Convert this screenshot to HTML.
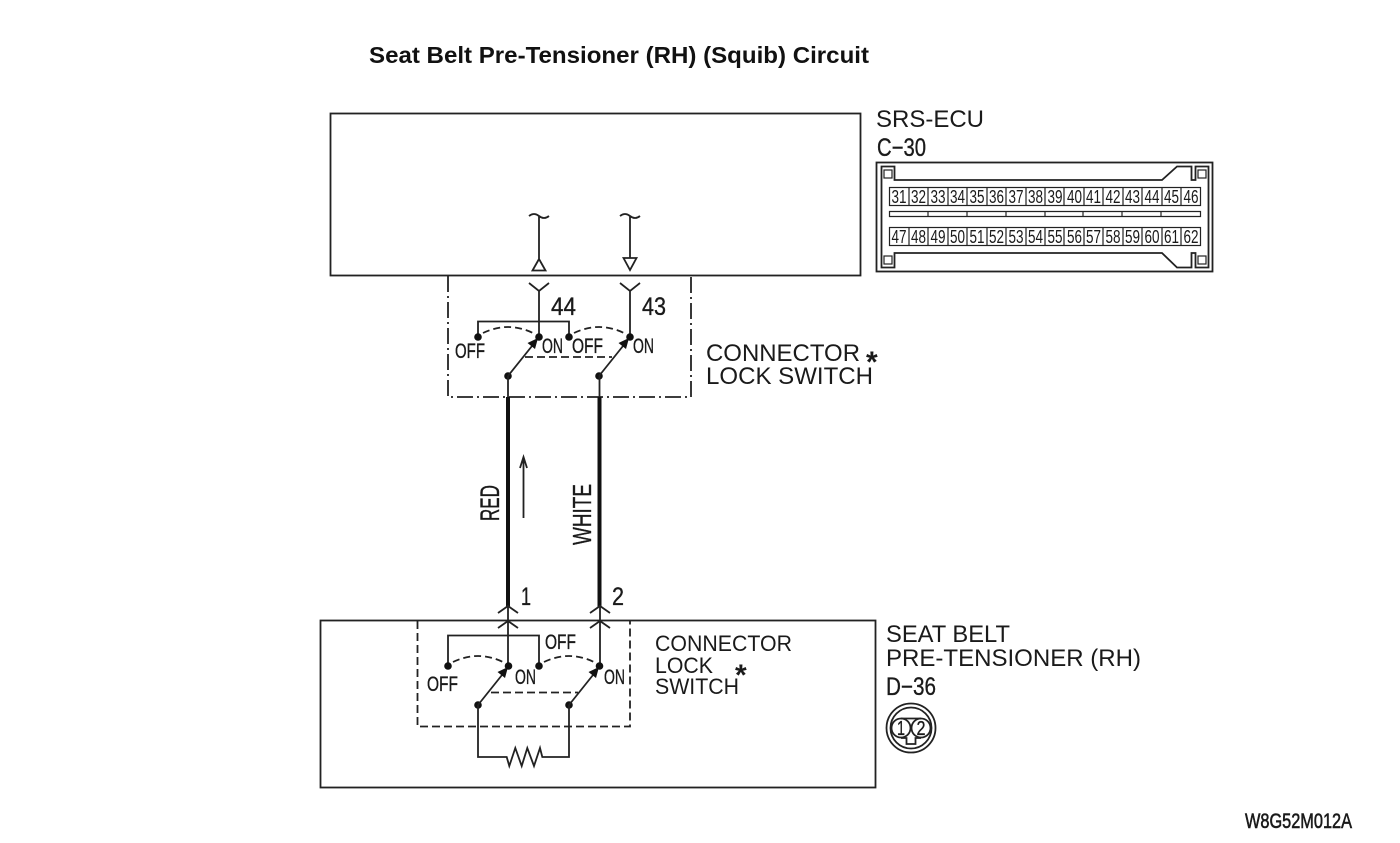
<!DOCTYPE html>
<html><head><meta charset="utf-8"><style>
html,body{margin:0;padding:0;background:#fff}
svg{display:block}
text{font-family:"Liberation Sans",sans-serif;fill:#1a1a1a}
.l{fill:none;stroke:#222;stroke-width:1.8}
.t{fill:none;stroke:#222;stroke-width:1.2}
.d{fill:#111}
.c{font-size:18px;text-anchor:middle}
.n{stroke:#1a1a1a;stroke-width:.35}
</style></head><body>
<svg width="1400" height="843" viewBox="0 0 1400 843" xmlns="http://www.w3.org/2000/svg">
<text x="369" y="63" font-size="23" font-weight="700" textLength="500" lengthAdjust="spacingAndGlyphs" style="fill:#111">Seat Belt Pre-Tensioner (RH) (Squib) Circuit</text>

<rect class="l" x="330.500" y="113.500" width="530" height="162"/>
<rect class="l" x="320.500" y="620.500" width="555" height="167"/>

<!-- ECU internal -->
<path class="l" d="M529 216q5-4 10 0t10 0M539 216V259M532.500 270.500L539 259L545.500 270.500ZM620 216q5-4 10 0t10 0M630 216V258M623.500 258L630 270L636.500 258Z"/>

<!-- upper switch box -->
<path class="l" d="M448 276V397H691V276" stroke-dasharray="16 4 2 4"/>
<path class="l" d="M529 283L539 291L549 283M539 291V337M620 283L630 291L640 283M630 291V337M478 337V321.500H569V337"/>
<g class="d"><circle cx="478" cy="337" r="3.800"/><circle cx="539" cy="337" r="3.800"/><circle cx="569" cy="337" r="3.800"/><circle cx="630" cy="337" r="3.800"/><circle cx="508" cy="376" r="3.800"/><circle cx="599" cy="376" r="3.800"/></g>
<path class="l" d="M508 376L536 341M599 376L627 341"/>
<path class="d" d="M538 338L535 349L527.500 343ZM629 338L626 349L618.500 343Z"/>
<path class="l" stroke-dasharray="7 4" d="M483 333Q508 321 533 333M574 333Q599 321 624 333"/>
<path class="l" stroke-dasharray="8 4" d="M525 357H612"/>

<!-- thick wires -->
<path d="M508 397V607M599.500 397V607" stroke="#111" stroke-width="4" fill="none"/>
<path d="M508 376V397M599.500 376V397" class="l"/>
<path class="l" d="M523.500 518V457M520 468L523.500 457L527 468"/>

<!-- lower switch box -->
<path class="l" d="M498 613L508 606L518 613M498 628L508 621L518 628M590 613L600 606L610 613M590 628L600 621L610 628M508 606V666M600 606V666"/>
<path class="l" stroke-dasharray="8 4" d="M417.500 621V726.500H630V621"/>
<path class="l" d="M448 666V635.500H539V666"/>
<g class="d"><circle cx="448" cy="666" r="3.800"/><circle cx="508.500" cy="666" r="3.800"/><circle cx="539" cy="666" r="3.800"/><circle cx="599.500" cy="666" r="3.800"/><circle cx="478" cy="705" r="3.800"/><circle cx="569" cy="705" r="3.800"/></g>
<path class="l" d="M478 705L506 670M569 705L597 670"/>
<path class="d" d="M508 667L505 678L497.500 672ZM599 667L596 678L588.500 672Z"/>
<path class="l" stroke-dasharray="7 4" d="M453 662Q478 650 503 662M544 662Q569 650 594 662"/>
<path class="l" stroke-dasharray="8 4" d="M491 692.500H578"/>
<path class="l" d="M478 705V757H506.700L509.300 766L515.300 748L521.700 766L527.300 748L534 766L540 748L542.300 757H569V705"/>

<!-- small labels -->
<g font-size="25" class="n">
<text x="551" y="315" textLength="25" lengthAdjust="spacingAndGlyphs">44</text>
<text x="642" y="315" textLength="24" lengthAdjust="spacingAndGlyphs">43</text>
<text x="521" y="605" textLength="10" lengthAdjust="spacingAndGlyphs">1</text>
<text x="612" y="605" textLength="12" lengthAdjust="spacingAndGlyphs">2</text>
</g>
<g font-size="21" class="n">
<text x="455" y="358" textLength="30" lengthAdjust="spacingAndGlyphs">OFF</text>
<text x="542" y="353" textLength="21" lengthAdjust="spacingAndGlyphs">ON</text>
<text x="572" y="353" textLength="31" lengthAdjust="spacingAndGlyphs">OFF</text>
<text x="633" y="353" textLength="21" lengthAdjust="spacingAndGlyphs">ON</text>
<text x="545" y="649" textLength="31" lengthAdjust="spacingAndGlyphs">OFF</text>
<text x="427" y="691" textLength="31" lengthAdjust="spacingAndGlyphs">OFF</text>
<text x="515" y="684" textLength="21" lengthAdjust="spacingAndGlyphs">ON</text>
<text x="604" y="684" textLength="21" lengthAdjust="spacingAndGlyphs">ON</text>
</g>
<text class="n" transform="translate(499,521) rotate(-90)" font-size="27" textLength="36" lengthAdjust="spacingAndGlyphs">RED</text>
<text class="n" transform="translate(591,545) rotate(-90)" font-size="26" textLength="61" lengthAdjust="spacingAndGlyphs">WHITE</text>

<!-- right labels -->
<g font-size="24">
<text x="876" y="127" textLength="108" lengthAdjust="spacingAndGlyphs">SRS-ECU</text>
<text class="n" x="877" y="156" font-size="25" textLength="49" lengthAdjust="spacingAndGlyphs">C−30</text>
<text x="706" y="361" textLength="154" lengthAdjust="spacingAndGlyphs">CONNECTOR</text>
<text x="706" y="384" textLength="167" lengthAdjust="spacingAndGlyphs">LOCK SWITCH</text>
<text x="886" y="642" textLength="124" lengthAdjust="spacingAndGlyphs">SEAT BELT</text>
<text x="886" y="666" textLength="255" lengthAdjust="spacingAndGlyphs">PRE-TENSIONER (RH)</text>
<text class="n" x="886" y="695" font-size="25" textLength="50" lengthAdjust="spacingAndGlyphs">D−36</text>
</g>
<g font-size="22">
<text x="655" y="651" textLength="137" lengthAdjust="spacingAndGlyphs">CONNECTOR</text>
<text x="655" y="673" textLength="58" lengthAdjust="spacingAndGlyphs">LOCK</text>
<text x="655" y="694" textLength="84" lengthAdjust="spacingAndGlyphs">SWITCH</text>
</g>
<text x="866" y="372" font-size="30" font-weight="700">*</text>
<text x="735" y="685" font-size="30" font-weight="700">*</text>
<text class="n" x="1245" y="828" font-size="21" textLength="107" lengthAdjust="spacingAndGlyphs" style="stroke-width:.6">W8G52M012A</text>

<!-- C-30 connector -->
<rect class="l" x="876.500" y="162.500" width="336" height="109"/>
<path class="l" d="M881.500 166.500H894.500V180H1162L1177 166.500H1191.500V180H1195.500V166.500H1208.500V267.500H1195.500V253H1191.500V267.500H1177L1162 253H894.500V267.500H881.500Z"/>
<rect class="t" x="884" y="170" width="8" height="8"/><rect class="t" x="1198" y="170" width="8" height="8"/>
<rect class="t" x="884" y="256" width="8" height="8"/><rect class="t" x="1198" y="256" width="8" height="8"/>
<path class="t" d="M889.500 211.500H1200.500V216.500H889.500ZM928 211.500V216.500M967 211.500V216.500M1006 211.500V216.500M1045 211.500V216.500M1083 211.500V216.500M1122 211.500V216.500M1161 211.500V216.500"/>
<g class="t">
<rect x="889.500" y="187.500" width="311" height="18"/>
<path d="M909 187.500V205.500M928 187.500V205.500M948 187.500V205.500M967 187.500V205.500M987 187.500V205.500M1006 187.500V205.500M1026 187.500V205.500M1045 187.500V205.500M1064 187.500V205.500M1084 187.500V205.500M1103 187.500V205.500M1123 187.500V205.500M1142 187.500V205.500M1162 187.500V205.500M1181 187.500V205.500"/>
<rect x="889.500" y="227.500" width="311" height="18"/>
<path d="M909 227.500V245.500M928 227.500V245.500M948 227.500V245.500M967 227.500V245.500M987 227.500V245.500M1006 227.500V245.500M1026 227.500V245.500M1045 227.500V245.500M1064 227.500V245.500M1084 227.500V245.500M1103 227.500V245.500M1123 227.500V245.500M1142 227.500V245.500M1162 227.500V245.500M1181 227.500V245.500"/>
</g>
<g class="c">
<text x="899" y="203" textLength="15" lengthAdjust="spacingAndGlyphs">31</text><text x="918.500" y="203" textLength="15" lengthAdjust="spacingAndGlyphs">32</text><text x="938" y="203" textLength="15" lengthAdjust="spacingAndGlyphs">33</text><text x="957.500" y="203" textLength="15" lengthAdjust="spacingAndGlyphs">34</text><text x="977" y="203" textLength="15" lengthAdjust="spacingAndGlyphs">35</text><text x="996.500" y="203" textLength="15" lengthAdjust="spacingAndGlyphs">36</text><text x="1016" y="203" textLength="15" lengthAdjust="spacingAndGlyphs">37</text><text x="1035.500" y="203" textLength="15" lengthAdjust="spacingAndGlyphs">38</text><text x="1055" y="203" textLength="15" lengthAdjust="spacingAndGlyphs">39</text><text x="1074.500" y="203" textLength="15" lengthAdjust="spacingAndGlyphs">40</text><text x="1093.500" y="203" textLength="15" lengthAdjust="spacingAndGlyphs">41</text><text x="1113" y="203" textLength="15" lengthAdjust="spacingAndGlyphs">42</text><text x="1132.500" y="203" textLength="15" lengthAdjust="spacingAndGlyphs">43</text><text x="1152" y="203" textLength="15" lengthAdjust="spacingAndGlyphs">44</text><text x="1171.500" y="203" textLength="15" lengthAdjust="spacingAndGlyphs">45</text><text x="1191" y="203" textLength="15" lengthAdjust="spacingAndGlyphs">46</text>
<text x="899" y="243" textLength="15" lengthAdjust="spacingAndGlyphs">47</text><text x="918.500" y="243" textLength="15" lengthAdjust="spacingAndGlyphs">48</text><text x="938" y="243" textLength="15" lengthAdjust="spacingAndGlyphs">49</text><text x="957.500" y="243" textLength="15" lengthAdjust="spacingAndGlyphs">50</text><text x="977" y="243" textLength="15" lengthAdjust="spacingAndGlyphs">51</text><text x="996.500" y="243" textLength="15" lengthAdjust="spacingAndGlyphs">52</text><text x="1016" y="243" textLength="15" lengthAdjust="spacingAndGlyphs">53</text><text x="1035.500" y="243" textLength="15" lengthAdjust="spacingAndGlyphs">54</text><text x="1055" y="243" textLength="15" lengthAdjust="spacingAndGlyphs">55</text><text x="1074.500" y="243" textLength="15" lengthAdjust="spacingAndGlyphs">56</text><text x="1093.500" y="243" textLength="15" lengthAdjust="spacingAndGlyphs">57</text><text x="1113" y="243" textLength="15" lengthAdjust="spacingAndGlyphs">58</text><text x="1132.500" y="243" textLength="15" lengthAdjust="spacingAndGlyphs">59</text><text x="1152" y="243" textLength="15" lengthAdjust="spacingAndGlyphs">60</text><text x="1171.500" y="243" textLength="15" lengthAdjust="spacingAndGlyphs">61</text><text x="1191" y="243" textLength="15" lengthAdjust="spacingAndGlyphs">62</text>
</g>

<!-- D-36 connector -->
<circle class="l" cx="911" cy="728" r="24.500"/>
<circle class="l" cx="911" cy="728" r="20.500"/>
<path class="l" d="M901 718.500H921M901 738H906.500V744H915.500V738H921"/>
<circle class="l" cx="901" cy="728" r="9.500"/><circle class="l" cx="921" cy="728" r="9.500"/>
<text class="n" x="901" y="735" font-size="20" text-anchor="middle" textLength="8" lengthAdjust="spacingAndGlyphs">1</text>
<text class="n" x="921" y="735" font-size="20" text-anchor="middle" textLength="9" lengthAdjust="spacingAndGlyphs">2</text>
</svg>
</body></html>
